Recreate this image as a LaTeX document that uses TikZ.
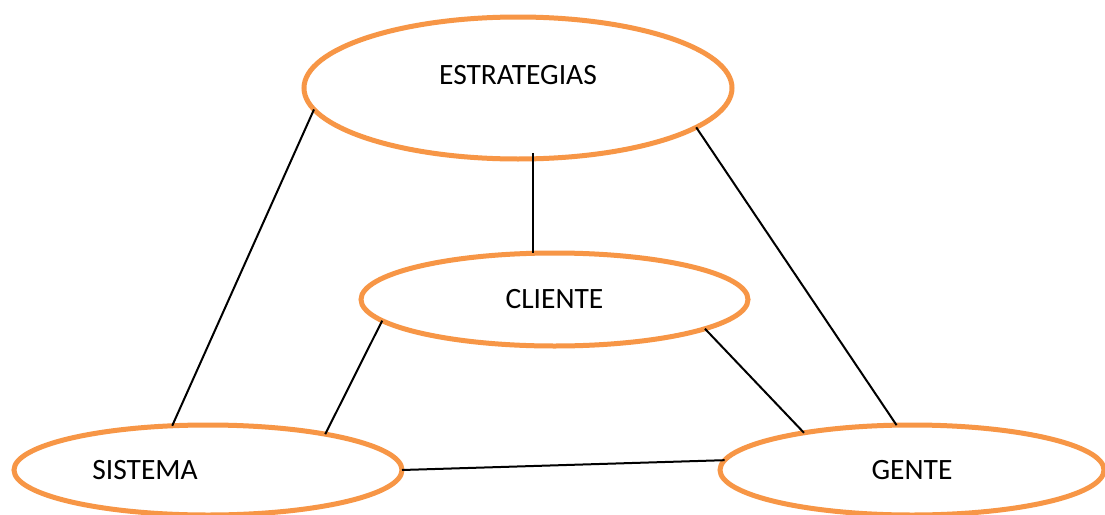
\documentclass[tikz,border=0pt]{standalone}
\usepackage{fontspec}
\setmainfont{Carlito}
\usetikzlibrary{shapes.geometric}
\definecolor{accentorange}{HTML}{F79646}
\tikzset{
  oval/.style={ellipse, draw=accentorange, line width=5pt, inner sep=0pt, outer sep=0pt, fill=white},
  txt/.style={font=\fontsize{29.5}{34}\selectfont, inner sep=0pt},
  link/.style={draw=black, line width=2pt}
}
\begin{document}
\begin{tikzpicture}[x=1pt,y=-1pt]
  \useasboundingbox (0,0) rectangle (1105,514);
  \clip (0,0) rectangle (1105,514);
  \fill[white] (0,0) rectangle (1105,514);

  % four ellipses
  \node[oval, minimum width=428pt, minimum height=142pt] (E) at (518,88) {};
  \node[oval, minimum width=387pt, minimum height=93pt]  (C) at (554.5,299.5) {};
  \node[oval, minimum width=388pt, minimum height=90pt]  (S) at (208,470) {};
  \node[oval, minimum width=384pt, minimum height=90pt]  (G) at (912,470) {};

  % labels
  \node[txt] (tE) at ([yshift=13pt]E.center) {ESTRATEGIAS};
  \node[txt] (tC) at (C.center) {CLIENTE};
  \node[txt] (tS) at ([xshift=-63pt]S.center) {SISTEMA};
  \node[txt] (tG) at (G.center) {GENTE};

  % connectors
  \draw[link] (E.186) -- (S.129.6);
  \draw[link] ([yshift=6pt]E.282) -- (E.282 |- C.north);
  \draw[link] ([xshift=-2pt,yshift=-1pt]E.348.3) -- (G.109.2);
  \draw[link] (C.187.3) -- (S.17.8);
  \draw[link] (C.349) -- (G.161.1);
  \draw[link] (S.0.9) -- (G.177.3);
\end{tikzpicture}
\end{document}
